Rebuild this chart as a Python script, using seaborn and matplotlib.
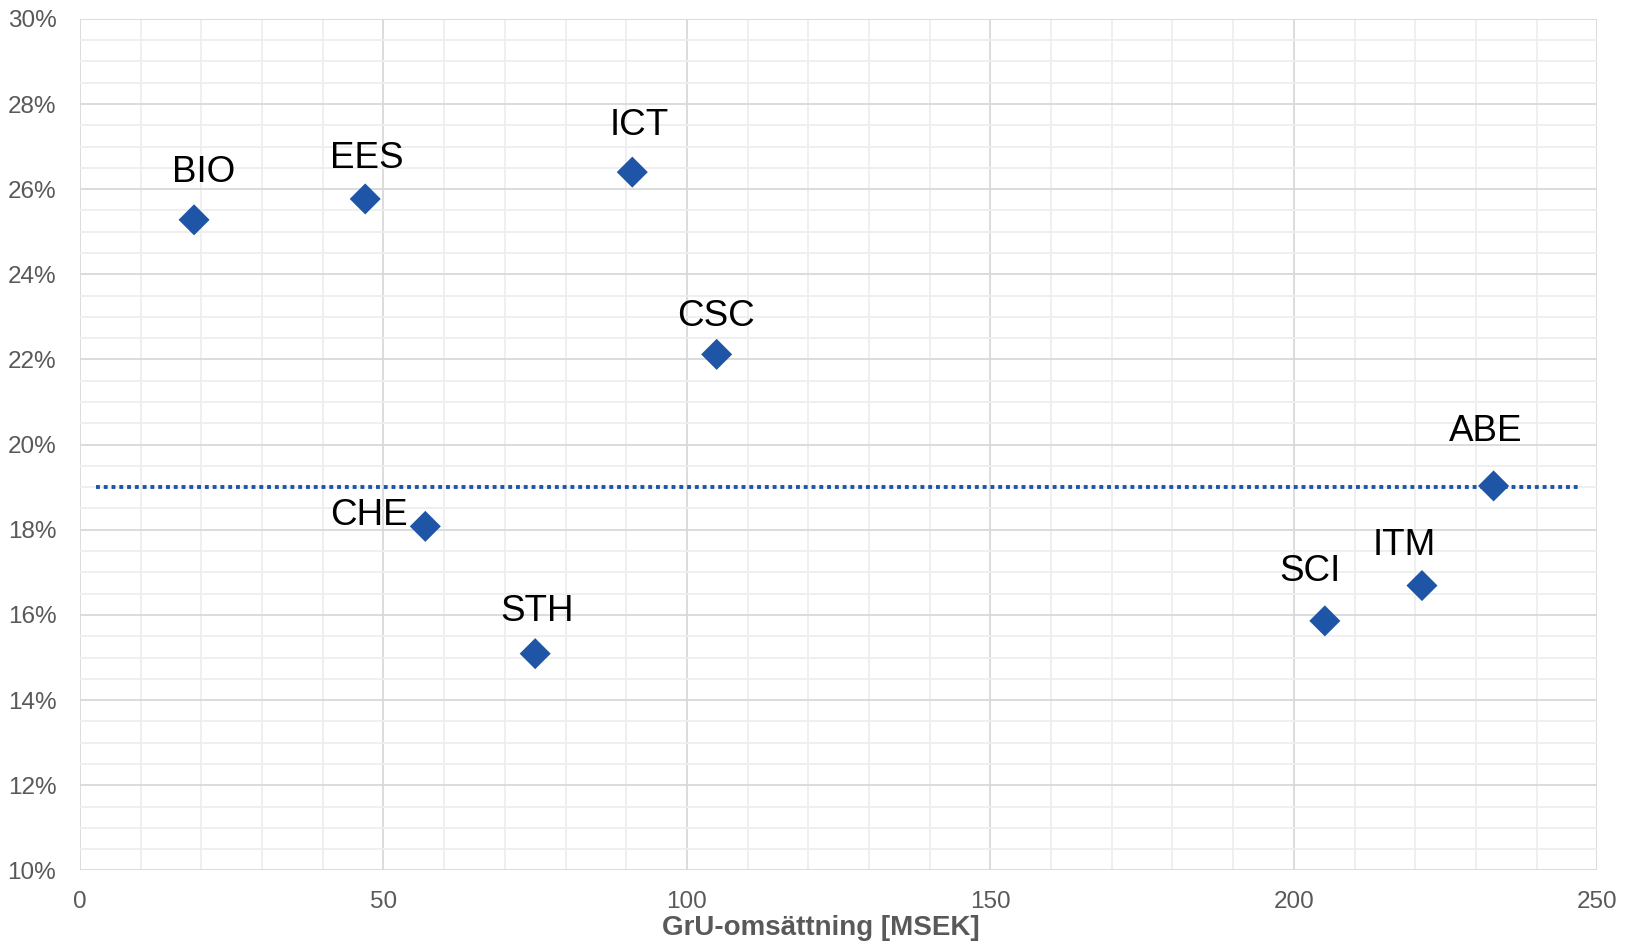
import numpy as np
import pandas as pd
import matplotlib.pyplot as plt
from matplotlib.ticker import MultipleLocator, FuncFormatter
import seaborn as sns

# data
schools = ["BIO", "EES", "ICT", "CSC", "CHE", "STH", "SCI", "ITM", "ABE"]
turnover = [18.8, 47.0, 91.0, 104.9, 56.9, 75.0, 205.1, 221.1, 232.9]  # GrU-omsättning [MSEK]
share = [0.2528, 0.2577, 0.2640, 0.2212, 0.1808, 0.1509, 0.1586, 0.1669, 0.1903]
avg_level = 0.19
avg_x = [2.7, 247.1]

# label offsets (pixels) relative to each point
label_dx = [10, 2, 7, -1, -56, 2, -15, -18, -8]
label_dy = [47, 40, 47, 38, 11, 42, 49, 40, 54]

df = pd.DataFrame({"school": schools, "turnover": turnover, "share": share})

sns.set_style("white")
plt.rcParams['font.family'] = ['Liberation Sans', 'DejaVu Sans']

blue = "#1f55a6"
grey_txt = "#595959"

fig = plt.figure(figsize=(16.25, 9.43), dpi=100)
ax = fig.add_axes([0.0492, 0.077, 0.9338, 0.903])

ax.plot(avg_x, [avg_level, avg_level], color=blue, lw=2.8, linestyle=(0, (1, 1)), zorder=2)
sns.scatterplot(data=df, x="turnover", y="share", marker="D", s=250, color=blue,
                edgecolor="none", linewidth=0, ax=ax, zorder=3)

for name, x, y, dx, dy in zip(schools, turnover, share, label_dx, label_dy):
    ax.annotate(name, (x, y), xytext=(dx, dy), textcoords="offset pixels",
                ha="center", va="center", fontsize=26.5, color="black")

ax.set_xlim(0, 250)
ax.set_ylim(0.10, 0.30)
ax.xaxis.set_major_locator(MultipleLocator(50))
ax.xaxis.set_minor_locator(MultipleLocator(10))
ax.yaxis.set_major_locator(MultipleLocator(0.02))
ax.yaxis.set_minor_locator(MultipleLocator(0.005))
ax.yaxis.set_major_formatter(FuncFormatter(lambda v, p: f"{v*100:.0f}%"))

ax.grid(which="major", color="#d9d9d9", lw=1.3)
ax.grid(which="minor", color="#eeeeee", lw=1.3)
ax.set_axisbelow(True)
for s in ax.spines.values():
    s.set_visible(False)

ax.tick_params(axis="both", which="major", length=5, width=1.3, color="#d9d9d9",
               labelsize=17.5, labelcolor=grey_txt)
ax.tick_params(axis="y", which="major", pad=12)
ax.tick_params(axis="x", which="major", pad=10)
ax.tick_params(axis="both", which="minor", length=0)

ax.set_xlabel("GrU-omsättning [MSEK]", fontsize=20, fontweight="bold", color=grey_txt, labelpad=1)
ax.xaxis.label.set_x(0.488)
ax.set_ylabel(None)

fig.savefig("out.png", dpi=100)
